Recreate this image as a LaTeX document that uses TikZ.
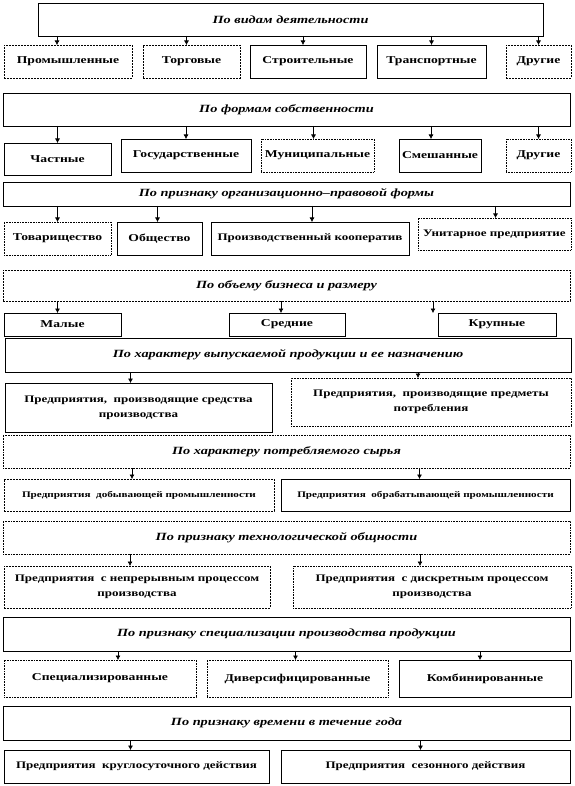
\documentclass[tikz,border=0pt]{standalone}
\usepackage{fontspec}
\setmainfont[FakeStretch=1.3]{Liberation Serif}
\usetikzlibrary{arrows.meta}

\begin{document}
\begin{tikzpicture}[x=1pt,y=-1pt,
  every node/.style={draw, inner sep=0pt, outer sep=0pt, line width=0.6pt, align=center},
  hd/.style={font=\fontsize{11}{13}\selectfont\bfseries\itshape},
  cat/.style={font=\fontsize{10.5}{15}\selectfont\bfseries},
  lng/.style={font=\fontsize{10}{15}\selectfont\bfseries},
  sml/.style={font=\fontsize{8.6}{15}\selectfont\bfseries},
  sol/.style={},
  dot/.style={densely dotted},
  dsh/.style={dash pattern=on 2pt off 1pt},
  arr/.style={line width=0.6pt, -{Latex[length=4.5pt,width=5pt]}}]
  \newcommand{\blk}[6]{\node[#1, minimum width={#4-#2}, minimum height={#5-#3}] (#6) at ({(#2+#4)/2},{(#3+#5)/2})}
  \newcommand{\arrdown}[3]{\draw[arr] ([xshift=#3]#2.north |- #1.south) -- ([xshift=#3]#2.north);}
  \useasboundingbox[fill=white] (0,0) rectangle (574,786);

  \blk{hd,sol}{38}{3}{543}{36}{h1} {По видам деятельности};
  \blk{cat,dsh}{4}{45}{132}{78}{a1} {Промышленные};
  \blk{cat,dsh}{143}{45}{240}{78}{a2} {Торговые};
  \blk{cat,sol}{250}{45}{366}{78}{a3} {Строительные};
  \blk{cat,sol}{377}{45}{486}{78}{a4} {Транспортные};
  \blk{cat,dsh}{506}{45}{571}{78}{a5} {Другие};
  \arrdown{h1}{a1}{-11pt} \arrdown{h1}{a2}{-5pt} \arrdown{h1}{a3}{-5pt}
  \arrdown{h1}{a4}{0pt} \arrdown{h1}{a5}{0pt}

  \blk{hd,sol}{3}{93}{570}{126}{h2} {По формам собственности};
  \blk{cat,sol}{4}{143}{111}{175}{b1} {Частные};
  \blk{cat,sol}{121}{139}{251}{172}{b2} {Государственные};
  \blk{cat,dot}{261}{139}{374}{172}{b3} {Муниципальные};
  \blk{cat,sol}{399}{139}{481}{172}{b4} {Смешанные};
  \blk{cat,dot}{506}{139}{571}{172}{b5} {Другие};
  \arrdown{h2}{b1}{0pt} \arrdown{h2}{b2}{0pt} \arrdown{h2}{b3}{-4pt}
  \arrdown{h2}{b4}{-9pt} \arrdown{h2}{b5}{0pt}

  \blk{hd,sol}{3}{182}{570}{206}{h3} {По признаку организационно–правовой формы};
  \blk{cat,dot}{4}{222}{111}{255}{c1} {Товарищество};
  \blk{cat,sol}{117}{222}{202}{255}{c2} {Общество};
  \blk{lng,sol}{211}{222}{409}{255}{c3} {Производственный кооператив};
  \blk{lng,dot}{418}{218}{571}{250}{c4} {Унитарное предприятие};
  \arrdown{h3}{c1}{0pt} \arrdown{h3}{c2}{-2pt} \arrdown{h3}{c3}{2pt}
  \arrdown{h3}{c4}{1pt}

  \blk{hd,dsh}{3}{270}{570}{301}{h4} {По объему бизнеса и размеру};
  \blk{cat,sol}{4}{313}{121}{336}{d1} {Малые};
  \blk{cat,sol}{229}{313}{345}{336}{d2} {Средние};
  \blk{cat,sol}{438}{313}{556}{336}{d3} {Крупные};
  \arrdown{h4}{d1}{-5pt} \arrdown{h4}{d2}{-6pt} \arrdown{h4}{d3}{-64pt}

  \blk{hd,sol}{5}{338}{571}{372}{h5} {По характеру выпускаемой продукции и ее назначению};
  \blk{lng,sol}{5}{383}{272}{432}{e1} {Предприятия,\ \ производящие средства\\производства};
  \blk{lng,dot}{291}{378}{571}{426}{e2} {Предприятия,\ \ производящие предметы\\потребления};
  \arrdown{h5}{e1}{-8pt} \arrdown{h5}{e2}{-13pt}

  \blk{hd,dot}{3}{435}{570}{468}{h6} {По характеру потребляемого сырья};
  \blk{sml,dsh}{4}{479}{274}{511}{f1} {Предприятия\ \ добывающей промышленности};
  \blk{sml,sol}{281}{479}{570}{511}{f2} {Предприятия\ \ обрабатывающей промышленности};
  \arrdown{h6}{f1}{-7pt} \arrdown{h6}{f2}{-6pt}

  \blk{hd,dot}{3}{521}{570}{554}{h7} {По признаку технологической общности};
  \blk{lng,dsh}{4}{566}{270}{608}{g1} {Предприятия\ \ с непрерывным процессом\\производства};
  \blk{lng,dot}{293}{566}{571}{608}{g2} {Предприятия\ \ с дискретным процессом\\производства};
  \arrdown{h7}{g1}{-7pt} \arrdown{h7}{g2}{-12pt}

  \blk{hd,sol}{3}{617}{570}{651}{h8} {По признаку специализации производства продукции};
  \blk{cat,dot}{4}{660}{196}{697}{k1} {Специализированные};
  \blk{cat,dot}{207}{660}{388}{697}{k2} {Диверсифицированные};
  \blk{cat,sol}{399}{660}{571}{697}{k3} {Комбинированные};
  \arrdown{h8}{k1}{18pt} \arrdown{h8}{k2}{-2pt} \arrdown{h8}{k3}{-5pt}

  \blk{hd,sol}{3}{706}{570}{740}{h9} {По признаку времени в течение года};
  \blk{lng,sol}{4}{750}{269}{783}{m1} {Предприятия\ \ круглосуточного действия};
  \blk{lng,sol}{281}{750}{570}{783}{m2} {Предприятия\ \ сезонного действия};
  \arrdown{h9}{m1}{-6pt} \arrdown{h9}{m2}{-5pt}
\end{tikzpicture}
\end{document}
